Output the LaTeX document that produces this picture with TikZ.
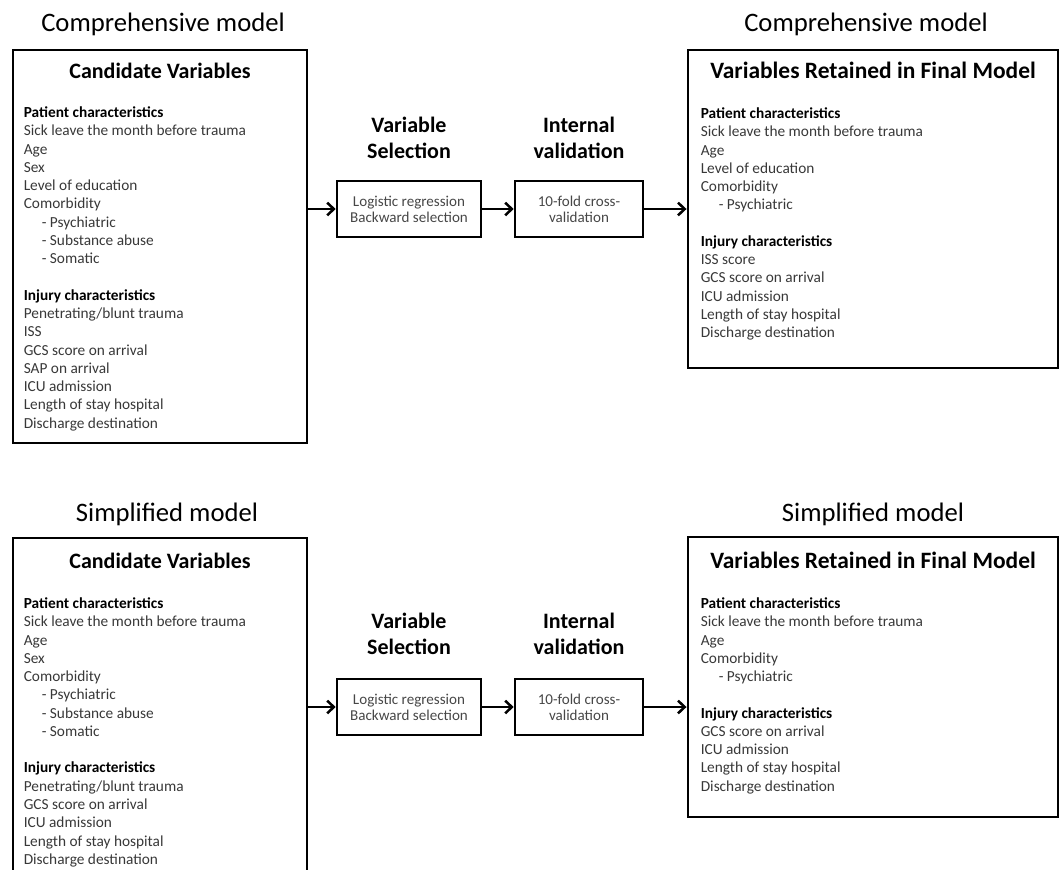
\documentclass[tikz,border=0pt]{standalone}
\usepackage{fontspec}
\setmainfont{Carlito}
\usetikzlibrary{arrows.meta, positioning, calc}
\newcommand{\subhead}[1]{{\color{black}\bfseries #1}}
\newcommand{\indentitem}{\hspace*{13.5pt}- }
\tikzset{
  modeltitle/.style={font=\fontsize{20}{24}\selectfont, inner sep=0pt},
  bigbox/.style={rectangle, draw=black, line width=2.2pt, inner sep=0pt},
  boxtitle/.style={font=\fontsize{#1}{19}\selectfont\bfseries, inner sep=0pt},
  boxtitle/.default=16.5,
  varlist/.style={align=left, inner sep=0pt, text=black!78,
    font=\fontsize{11.5}{13.7}\selectfont},
  steptitle/.style={align=center, inner sep=0pt,
    font=\fontsize{16.5}{19.5}\selectfont\bfseries},
  stepbox/.style={rectangle, draw=black, line width=2pt, minimum height=42pt,
    align=center, text=black!72, font=\fontsize{11.3}{12}\selectfont},
  arrow/.style={line width=1.9pt, -{Straight Barb[length=5pt,width=9.5pt]}},
}
\begin{document}
\begin{tikzpicture}[x=0.75pt, y=-0.75pt]
  \useasboundingbox (0,0) rectangle (1060,869);
  \clip (0,0) rectangle (1060,869);

  % --- Comprehensive model (top row) ---
  \node (candA) [bigbox, minimum width=220.5pt, minimum height=294.75pt] at (160,246.5) {};
  \node (candAtitle) [boxtitle] at ($(candA.north)+(0,22)$) {Candidate Variables};
  \node (candAlist) [varlist, anchor=north west] at ($(candA.north west)+(12,58)$)
    {\subhead{Patient characteristics}\\
     Sick leave the month before trauma\\
     Age\\
     Sex\\
     Level of education\\
     Comorbidity\\
     \indentitem Psychiatric\\
     \indentitem Substance abuse\\
     \indentitem Somatic\\[13.7pt]
     \subhead{Injury characteristics}\\
     Penetrating/blunt trauma\\
     ISS\\
     GCS score on arrival\\
     SAP on arrival\\
     ICU admission\\
     Length of stay hospital\\
     Discharge destination};
  \node (compA) [modeltitle] at (163,24) {Comprehensive model};

  \node (selAtitle) [steptitle] at (409,137.5) {Variable\\Selection};
  \node (selA) [stepbox, minimum width=108pt] at (409,209) {Logistic regression\\Backward selection};
  \node (valAtitle) [steptitle] at (579,137.5) {Internal\\validation};
  \node (valA) [stepbox, minimum width=96pt] at (579,209) {10-fold cross-\\validation};

  \node (finalA) [bigbox, minimum width=277.5pt, minimum height=238.5pt] at (873,209) {};
  \node (finalAtitle) [boxtitle=17.6] at ($(finalA.north)+(0,22)$) {Variables Retained in Final Model};
  \node (finalAlist) [varlist, anchor=north west] at ($(finalA.north west)+(14,59)$)
    {\subhead{Patient characteristics}\\
     Sick leave the month before trauma\\
     Age\\
     Level of education\\
     Comorbidity\\
     \indentitem Psychiatric\\[13.7pt]
     \subhead{Injury characteristics}\\
     ISS score\\
     GCS score on arrival\\
     ICU admission\\
     Length of stay hospital\\
     Discharge destination};
  \node (compB) [modeltitle] at (866,24) {Comprehensive model};

  \draw[arrow] (selA.west -| candA.east) -- (selA.west);
  \draw[arrow] (selA) -- (valA);
  \draw[arrow] (valA) -- (finalA);

  % --- Simplified model (bottom row) ---
  \node (candB) [bigbox, minimum width=220.5pt, minimum height=264pt] at (160,714) {};
  \node (candBtitle) [boxtitle] at ($(candB.north)+(0,24)$) {Candidate Variables};
  \node (candBlist) [varlist, anchor=north west] at ($(candB.north west)+(12,61)$)
    {\subhead{Patient characteristics}\\
     Sick leave the month before trauma\\
     Age\\
     Sex\\
     Comorbidity\\
     \indentitem Psychiatric\\
     \indentitem Substance abuse\\
     \indentitem Somatic\\[13.7pt]
     \subhead{Injury characteristics}\\
     Penetrating/blunt trauma\\
     GCS score on arrival\\
     ICU admission\\
     Length of stay hospital\\
     Discharge destination};
  \node (simpA) [modeltitle] at (167,514) {Simplified model};

  \node (selBtitle) [steptitle] at (409,633.5) {Variable\\Selection};
  \node (selB) [stepbox, minimum width=108pt] at (409,707) {Logistic regression\\Backward selection};
  \node (valBtitle) [steptitle] at (579,633.5) {Internal\\validation};
  \node (valB) [stepbox, minimum width=96pt] at (579,707) {10-fold cross-\\validation};

  \node (finalB) [bigbox, minimum width=277.5pt, minimum height=210pt] at (873,677) {};
  \node (finalBtitle) [boxtitle=17.6] at ($(finalB.north)+(0,25)$) {Variables Retained in Final Model};
  \node (finalBlist) [varlist, anchor=north west] at ($(finalB.north west)+(14,62)$)
    {\subhead{Patient characteristics}\\
     Sick leave the month before trauma\\
     Age\\
     Comorbidity\\
     \indentitem Psychiatric\\[13.7pt]
     \subhead{Injury characteristics}\\
     GCS score on arrival\\
     ICU admission\\
     Length of stay hospital\\
     Discharge destination};
  \node (simpB) [modeltitle] at (873,514) {Simplified model};

  \draw[arrow] (selB.west -| candB.east) -- (selB.west);
  \draw[arrow] (selB) -- (valB);
  \draw[arrow] (valB.east) -- (valB.east -| finalB.west);

\end{tikzpicture}
\end{document}
